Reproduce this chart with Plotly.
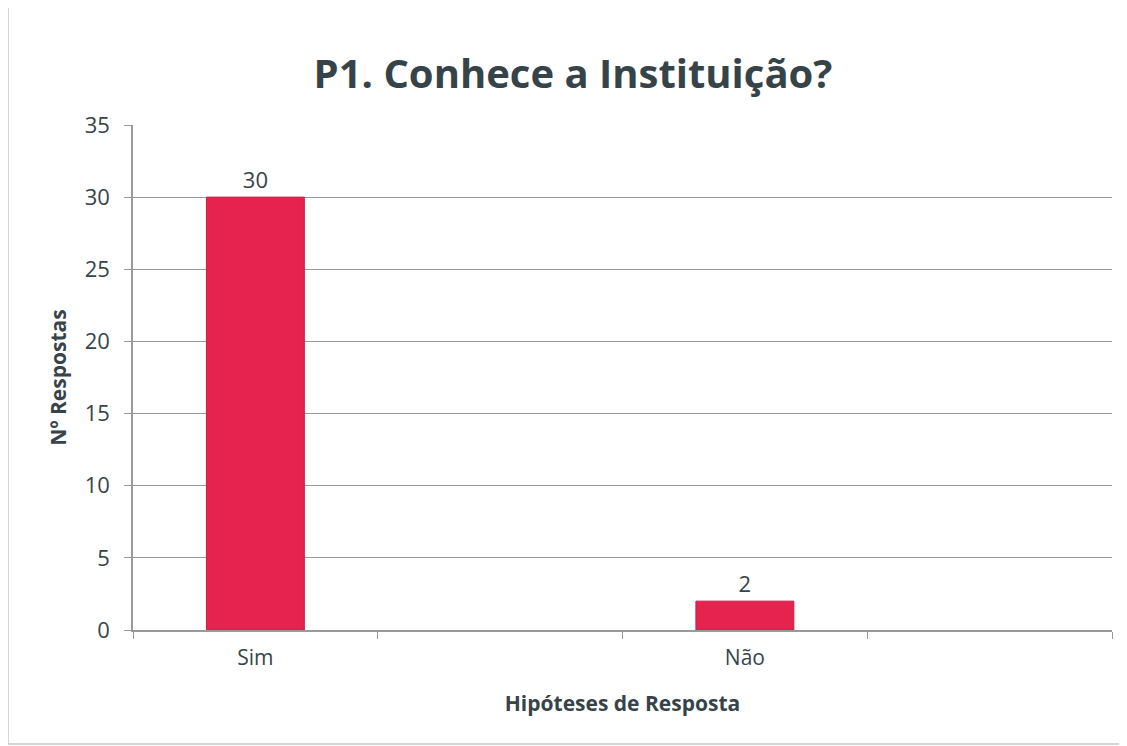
import plotly.graph_objects as go

categories = ["Sim", " ", "Não", "  "]
values = [30, None, 2, None]
labels = ["30", "", "2", ""]
y_ticks = [0, 5, 10, 15, 20, 25, 30, 35]

title = "P1. Conhece a Instituição?"
x_title = "Hipóteses de Resposta"
y_title = "Nº Respostas"

W, H = 1127, 746
m_l, m_r, m_t, m_b = 125, 23, 117, 124
dark = "#36444a"

fig = go.Figure()
fig.add_trace(go.Bar(
    x=categories, y=values, text=labels, textposition="outside",
    textfont=dict(size=22, color=dark, family="Open Sans"),
    marker=dict(color="#e6234f", line=dict(color="#c81c44", width=1)),
    width=0.4, cliponaxis=False,
))

fig.update_layout(
    width=W, height=H,
    margin=dict(l=m_l, r=m_r, t=m_t, b=m_b),
    paper_bgcolor="white", plot_bgcolor="white",
    showlegend=False,
    title=dict(text="<b>" + title + "</b>", x=573 / W - 8 / W, xanchor="center",
               y=1 - 66 / H, yanchor="middle",
               font=dict(size=40, color=dark, family="Open Sans")),
    font=dict(family="Open Sans", color=dark),
    xaxis=dict(
        type="category", tickson="boundaries", ticks="outside", ticklen=7,
        tickcolor="#9a9a9a", showline=True, linecolor="#9a9a9a", linewidth=1.5,
        tickfont=dict(size=21, color=dark), showgrid=False, ticklabelstandoff=8,
        title=dict(text="<b>" + x_title + "</b>", font=dict(size=21, color=dark), standoff=26),
    ),
    yaxis=dict(
        range=[0, 35], tickvals=y_ticks, ticks="outside", ticklen=7,
        tickcolor="#9a9a9a", showline=True, linecolor="#9a9a9a", linewidth=1.5,
        gridcolor="#9a9a9a", gridwidth=1, zeroline=False,
        tickfont=dict(size=22, color=dark), ticklabelstandoff=10,
        title=dict(text="<b>" + y_title + "</b>", font=dict(size=21, color=dark), standoff=12),
    ),
    bargap=0.6,
)

fig.add_shape(type="rect", xref="paper", yref="paper",
              x0=-(m_l - 0) / (W - m_l - m_r), x1=1 + (m_r - 3) / (W - m_l - m_r),
              y0=-(m_b - 10) / (H - m_t - m_b), y1=1 + (m_t + 3) / (H - m_t - m_b),
              line=dict(color="#c8c8c8", width=1.5), layer="below")

fig.write_html("out.html")
